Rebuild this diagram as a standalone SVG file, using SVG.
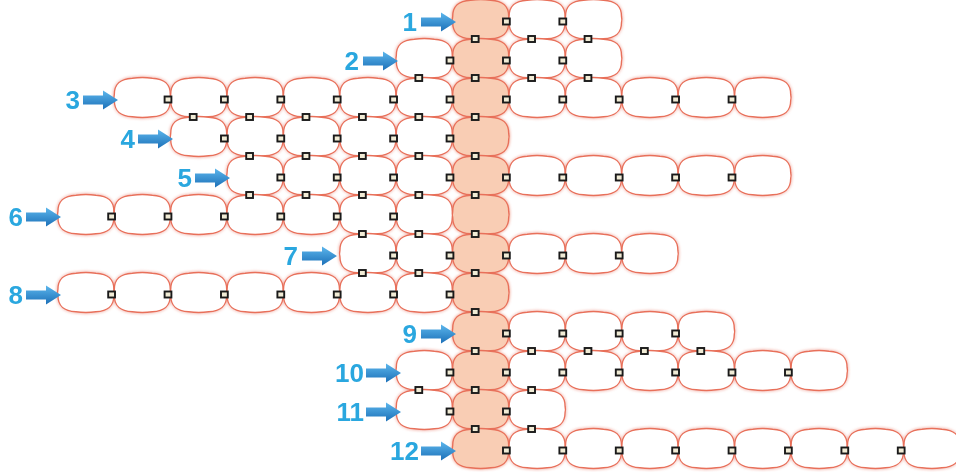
<svg xmlns="http://www.w3.org/2000/svg" xmlns:xlink="http://www.w3.org/1999/xlink" width="956" height="472" viewBox="0 0 956 472">
<style>
.w{fill:#ffffff;stroke:#e8705a;stroke-width:1.4}
.p{fill:#f9cdb4;stroke:#e8705a;stroke-width:1.4}
.sq{fill:#f1ecd6;stroke:#1a1a1a;stroke-width:1.9}
.num{font-family:"Liberation Sans",Arial,sans-serif;font-weight:bold;font-size:26px;fill:#2aa7df;text-anchor:end}
.arr{fill:url(#ag)}
</style>
<defs>
<path id="cell" d="M-10,-19.3 C-3,-20.3 3,-20.3 10,-19.3 C22,-18.5 28,-14 28,-3 C28.5,-1 28.5,1 28,3 C28,14 22,18.5 10,19.3 C3,20.3 -3,20.3 -10,19.3 C-22,18.5 -28,14 -28,3 C-28.5,1 -28.5,-1 -28,-3 C-28,-14 -22,-18.5 -10,-19.3 Z"/>
<rect id="sq" x="-3.4" y="-3" width="6.8" height="6"/>
<path id="arrow" d="M-35,-4.5 L-15,-4.5 L-15,-9.5 L0,0 L-15,9.5 L-15,4.5 L-35,4.5 Z"/>
<linearGradient id="ag" x1="0" y1="0" x2="0" y2="1">
<stop offset="0" stop-color="#5cb6ec"/>
<stop offset="1" stop-color="#1c70b8"/>
</linearGradient>
<filter id="glow" x="-5%" y="-5%" width="110%" height="110%">
<feGaussianBlur in="SourceGraphic" stdDeviation="1.8" result="b"/>
<feMerge><feMergeNode in="b"/><feMergeNode in="SourceGraphic"/></feMerge>
</filter>
</defs>
<rect x="0" y="0" width="956" height="472" fill="#ffffff"/>
<g id="cells" filter="url(#glow)">
<g id="r1c0"><use href="#cell" class="p" x="480.7" y="19.5"/></g>
<g id="r1c1"><use href="#cell" class="w" x="537.1" y="19.5"/></g>
<g id="r1c2"><use href="#cell" class="w" x="593.5" y="19.5"/></g>

<g id="r2cm1"><use href="#cell" class="w" x="424.3" y="58.5"/></g>
<g id="r2c0"><use href="#cell" class="p" x="480.7" y="58.5"/></g>
<g id="r2c1"><use href="#cell" class="w" x="537.1" y="58.5"/></g>
<g id="r2c2"><use href="#cell" class="w" x="593.5" y="58.5"/></g>

<g id="r3cm6"><use href="#cell" class="w" x="142.3" y="97.5"/></g>
<g id="r3cm5"><use href="#cell" class="w" x="198.7" y="97.5"/></g>
<g id="r3cm4"><use href="#cell" class="w" x="255.1" y="97.5"/></g>
<g id="r3cm3"><use href="#cell" class="w" x="311.5" y="97.5"/></g>
<g id="r3cm2"><use href="#cell" class="w" x="367.9" y="97.5"/></g>
<g id="r3cm1"><use href="#cell" class="w" x="424.3" y="97.5"/></g>
<g id="r3c0"><use href="#cell" class="p" x="480.7" y="97.5"/></g>
<g id="r3c1"><use href="#cell" class="w" x="537.1" y="97.5"/></g>
<g id="r3c2"><use href="#cell" class="w" x="593.5" y="97.5"/></g>
<g id="r3c3"><use href="#cell" class="w" x="649.9" y="97.5"/></g>
<g id="r3c4"><use href="#cell" class="w" x="706.3" y="97.5"/></g>
<g id="r3c5"><use href="#cell" class="w" x="762.7" y="97.5"/></g>

<g id="r4cm5"><use href="#cell" class="w" x="198.7" y="136.5"/></g>
<g id="r4cm4"><use href="#cell" class="w" x="255.1" y="136.5"/></g>
<g id="r4cm3"><use href="#cell" class="w" x="311.5" y="136.5"/></g>
<g id="r4cm2"><use href="#cell" class="w" x="367.9" y="136.5"/></g>
<g id="r4cm1"><use href="#cell" class="w" x="424.3" y="136.5"/></g>
<g id="r4c0"><use href="#cell" class="p" x="480.7" y="136.5"/></g>

<g id="r5cm4"><use href="#cell" class="w" x="255.1" y="175.5"/></g>
<g id="r5cm3"><use href="#cell" class="w" x="311.5" y="175.5"/></g>
<g id="r5cm2"><use href="#cell" class="w" x="367.9" y="175.5"/></g>
<g id="r5cm1"><use href="#cell" class="w" x="424.3" y="175.5"/></g>
<g id="r5c0"><use href="#cell" class="p" x="480.7" y="175.5"/></g>
<g id="r5c1"><use href="#cell" class="w" x="537.1" y="175.5"/></g>
<g id="r5c2"><use href="#cell" class="w" x="593.5" y="175.5"/></g>
<g id="r5c3"><use href="#cell" class="w" x="649.9" y="175.5"/></g>
<g id="r5c4"><use href="#cell" class="w" x="706.3" y="175.5"/></g>
<g id="r5c5"><use href="#cell" class="w" x="762.7" y="175.5"/></g>

<g id="r6cm7"><use href="#cell" class="w" x="85.9" y="214.5"/></g>
<g id="r6cm6"><use href="#cell" class="w" x="142.3" y="214.5"/></g>
<g id="r6cm5"><use href="#cell" class="w" x="198.7" y="214.5"/></g>
<g id="r6cm4"><use href="#cell" class="w" x="255.1" y="214.5"/></g>
<g id="r6cm3"><use href="#cell" class="w" x="311.5" y="214.5"/></g>
<g id="r6cm2"><use href="#cell" class="w" x="367.9" y="214.5"/></g>
<g id="r6cm1"><use href="#cell" class="w" x="424.3" y="214.5"/></g>
<g id="r6c0"><use href="#cell" class="p" x="480.7" y="214.5"/></g>

<g id="r7cm2"><use href="#cell" class="w" x="367.9" y="253.5"/></g>
<g id="r7cm1"><use href="#cell" class="w" x="424.3" y="253.5"/></g>
<g id="r7c0"><use href="#cell" class="p" x="480.7" y="253.5"/></g>
<g id="r7c1"><use href="#cell" class="w" x="537.1" y="253.5"/></g>
<g id="r7c2"><use href="#cell" class="w" x="593.5" y="253.5"/></g>
<g id="r7c3"><use href="#cell" class="w" x="649.9" y="253.5"/></g>

<g id="r8cm7"><use href="#cell" class="w" x="85.9" y="292.5"/></g>
<g id="r8cm6"><use href="#cell" class="w" x="142.3" y="292.5"/></g>
<g id="r8cm5"><use href="#cell" class="w" x="198.7" y="292.5"/></g>
<g id="r8cm4"><use href="#cell" class="w" x="255.1" y="292.5"/></g>
<g id="r8cm3"><use href="#cell" class="w" x="311.5" y="292.5"/></g>
<g id="r8cm2"><use href="#cell" class="w" x="367.9" y="292.5"/></g>
<g id="r8cm1"><use href="#cell" class="w" x="424.3" y="292.5"/></g>
<g id="r8c0"><use href="#cell" class="p" x="480.7" y="292.5"/></g>

<g id="r9c0"><use href="#cell" class="p" x="480.7" y="331.5"/></g>
<g id="r9c1"><use href="#cell" class="w" x="537.1" y="331.5"/></g>
<g id="r9c2"><use href="#cell" class="w" x="593.5" y="331.5"/></g>
<g id="r9c3"><use href="#cell" class="w" x="649.9" y="331.5"/></g>
<g id="r9c4"><use href="#cell" class="w" x="706.3" y="331.5"/></g>

<g id="r10cm1"><use href="#cell" class="w" x="424.3" y="370.5"/></g>
<g id="r10c0"><use href="#cell" class="p" x="480.7" y="370.5"/></g>
<g id="r10c1"><use href="#cell" class="w" x="537.1" y="370.5"/></g>
<g id="r10c2"><use href="#cell" class="w" x="593.5" y="370.5"/></g>
<g id="r10c3"><use href="#cell" class="w" x="649.9" y="370.5"/></g>
<g id="r10c4"><use href="#cell" class="w" x="706.3" y="370.5"/></g>
<g id="r10c5"><use href="#cell" class="w" x="762.7" y="370.5"/></g>
<g id="r10c6"><use href="#cell" class="w" x="819.1" y="370.5"/></g>

<g id="r11cm1"><use href="#cell" class="w" x="424.3" y="409.5"/></g>
<g id="r11c0"><use href="#cell" class="p" x="480.7" y="409.5"/></g>
<g id="r11c1"><use href="#cell" class="w" x="537.1" y="409.5"/></g>

<g id="r12c0"><use href="#cell" class="p" x="480.7" y="448.5"/></g>
<g id="r12c1"><use href="#cell" class="w" x="537.1" y="448.5"/></g>
<g id="r12c2"><use href="#cell" class="w" x="593.5" y="448.5"/></g>
<g id="r12c3"><use href="#cell" class="w" x="649.9" y="448.5"/></g>
<g id="r12c4"><use href="#cell" class="w" x="706.3" y="448.5"/></g>
<g id="r12c5"><use href="#cell" class="w" x="762.7" y="448.5"/></g>
<g id="r12c6"><use href="#cell" class="w" x="819.1" y="448.5"/></g>
<g id="r12c7"><use href="#cell" class="w" x="875.5" y="448.5"/></g>
<g id="r12c8"><use href="#cell" class="w" x="931.9" y="448.5"/></g>
</g>

<g id="connectors" class="sq">
<use href="#sq" x="506.4" y="21.5"/><use href="#sq" x="562.8" y="21.5"/>
<use href="#sq" x="450" y="60.5"/><use href="#sq" x="506.4" y="60.5"/><use href="#sq" x="562.8" y="60.5"/>
<use href="#sq" x="168" y="99.5"/><use href="#sq" x="224.4" y="99.5"/><use href="#sq" x="280.8" y="99.5"/><use href="#sq" x="337.2" y="99.5"/><use href="#sq" x="393.6" y="99.5"/><use href="#sq" x="450" y="99.5"/><use href="#sq" x="506.4" y="99.5"/><use href="#sq" x="562.8" y="99.5"/><use href="#sq" x="619.2" y="99.5"/><use href="#sq" x="675.6" y="99.5"/><use href="#sq" x="732" y="99.5"/>
<use href="#sq" x="224.4" y="138.5"/><use href="#sq" x="280.8" y="138.5"/><use href="#sq" x="337.2" y="138.5"/><use href="#sq" x="393.6" y="138.5"/><use href="#sq" x="450" y="138.5"/>
<use href="#sq" x="280.8" y="177.5"/><use href="#sq" x="337.2" y="177.5"/><use href="#sq" x="393.6" y="177.5"/><use href="#sq" x="450" y="177.5"/><use href="#sq" x="506.4" y="177.5"/><use href="#sq" x="562.8" y="177.5"/><use href="#sq" x="619.2" y="177.5"/><use href="#sq" x="675.6" y="177.5"/><use href="#sq" x="732" y="177.5"/>
<use href="#sq" x="111.6" y="216.5"/><use href="#sq" x="168" y="216.5"/><use href="#sq" x="224.4" y="216.5"/><use href="#sq" x="280.8" y="216.5"/><use href="#sq" x="337.2" y="216.5"/><use href="#sq" x="393.6" y="216.5"/>
<use href="#sq" x="393.6" y="255.5"/><use href="#sq" x="450" y="255.5"/><use href="#sq" x="506.4" y="255.5"/><use href="#sq" x="562.8" y="255.5"/><use href="#sq" x="619.2" y="255.5"/>
<use href="#sq" x="111.6" y="294.5"/><use href="#sq" x="168" y="294.5"/><use href="#sq" x="224.4" y="294.5"/><use href="#sq" x="280.8" y="294.5"/><use href="#sq" x="337.2" y="294.5"/><use href="#sq" x="393.6" y="294.5"/><use href="#sq" x="450" y="294.5"/>
<use href="#sq" x="506.4" y="333.5"/><use href="#sq" x="562.8" y="333.5"/><use href="#sq" x="619.2" y="333.5"/><use href="#sq" x="675.6" y="333.5"/>
<use href="#sq" x="450" y="372.5"/><use href="#sq" x="506.4" y="372.5"/><use href="#sq" x="562.8" y="372.5"/><use href="#sq" x="619.2" y="372.5"/><use href="#sq" x="675.6" y="372.5"/><use href="#sq" x="732" y="372.5"/><use href="#sq" x="788.4" y="372.5"/>
<use href="#sq" x="450" y="411.5"/><use href="#sq" x="506.4" y="411.5"/>
<use href="#sq" x="506.4" y="450.5"/><use href="#sq" x="562.8" y="450.5"/><use href="#sq" x="619.2" y="450.5"/><use href="#sq" x="675.6" y="450.5"/><use href="#sq" x="732" y="450.5"/><use href="#sq" x="788.4" y="450.5"/><use href="#sq" x="844.8" y="450.5"/><use href="#sq" x="901.2" y="450.5"/>

<use href="#sq" x="475.2" y="39"/><use href="#sq" x="531.6" y="39"/><use href="#sq" x="588" y="39"/>
<use href="#sq" x="418.8" y="78"/><use href="#sq" x="475.2" y="78"/><use href="#sq" x="531.6" y="78"/><use href="#sq" x="588" y="78"/>
<use href="#sq" x="193.2" y="117"/><use href="#sq" x="249.6" y="117"/><use href="#sq" x="306" y="117"/><use href="#sq" x="362.4" y="117"/><use href="#sq" x="418.8" y="117"/><use href="#sq" x="475.2" y="117"/>
<use href="#sq" x="249.6" y="156"/><use href="#sq" x="306" y="156"/><use href="#sq" x="362.4" y="156"/><use href="#sq" x="418.8" y="156"/><use href="#sq" x="475.2" y="156"/>
<use href="#sq" x="249.6" y="195"/><use href="#sq" x="306" y="195"/><use href="#sq" x="362.4" y="195"/><use href="#sq" x="418.8" y="195"/><use href="#sq" x="475.2" y="195"/>
<use href="#sq" x="362.4" y="234"/><use href="#sq" x="418.8" y="234"/><use href="#sq" x="475.2" y="234"/>
<use href="#sq" x="362.4" y="273"/><use href="#sq" x="418.8" y="273"/><use href="#sq" x="475.2" y="273"/>
<use href="#sq" x="475.2" y="312"/>
<use href="#sq" x="475.2" y="351"/><use href="#sq" x="531.6" y="351"/><use href="#sq" x="588" y="351"/><use href="#sq" x="644.4" y="351"/><use href="#sq" x="700.8" y="351"/>
<use href="#sq" x="418.8" y="390"/><use href="#sq" x="475.2" y="390"/><use href="#sq" x="531.6" y="390"/>
<use href="#sq" x="475.2" y="429"/><use href="#sq" x="531.6" y="429"/>
</g>

<g id="arrows" class="arr">
<use href="#arrow" x="456" y="22"/>
<use href="#arrow" x="398" y="61"/>
<use href="#arrow" x="118" y="100"/>
<use href="#arrow" x="173" y="139"/>
<use href="#arrow" x="230" y="178"/>
<use href="#arrow" x="61" y="217"/>
<use href="#arrow" x="337" y="256"/>
<use href="#arrow" x="61" y="295"/>
<use href="#arrow" x="456" y="334"/>
<use href="#arrow" x="401" y="373"/>
<use href="#arrow" x="401" y="412"/>
<use href="#arrow" x="456" y="451"/>
</g>

<g id="labels" class="num">
<text x="417" y="31">1</text>
<text x="359" y="70">2</text>
<text x="80" y="109">3</text>
<text x="135" y="148">4</text>
<text x="192" y="187">5</text>
<text x="23" y="226">6</text>
<text x="298" y="265">7</text>
<text x="23" y="304">8</text>
<text x="417" y="343">9</text>
<text x="364" y="382">10</text>
<text x="364" y="421">11</text>
<text x="419" y="460">12</text>
</g>
</svg>
